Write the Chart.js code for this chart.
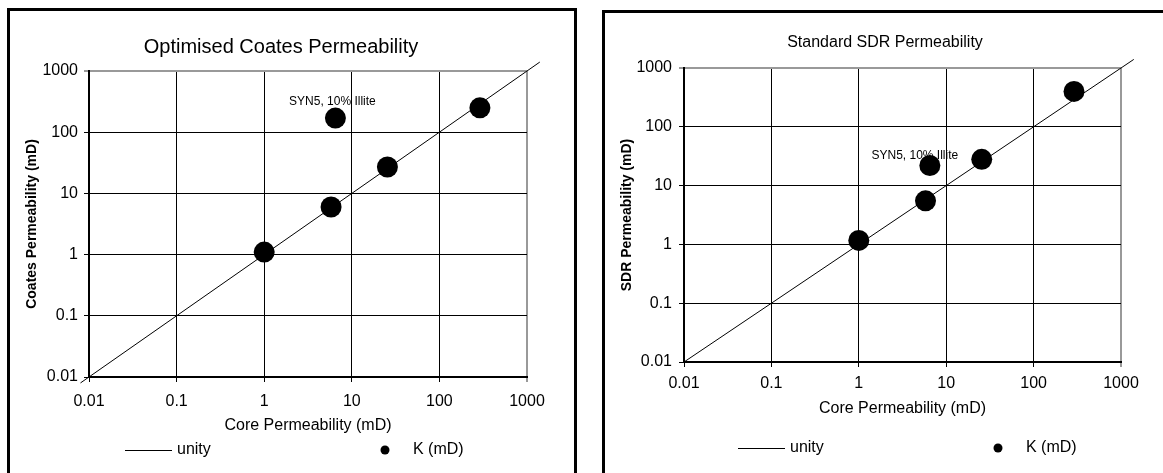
<!DOCTYPE html>
<html>
<head>
<meta charset="utf-8">
<script src="https://cdn.jsdelivr.net/npm/chart.js@4/dist/chart.umd.min.js"></script>
<style>
  html, body { margin: 0; padding: 0; background: #fff; }
  body { position: relative; width: 1163px; height: 473px; overflow: hidden; }
  .panel { position: absolute; border: 3px solid #000; border-bottom: none; height: 520px; }
  #panelLeft { left: 7px; top: 8px; width: 564px; }
  #panelRight { left: 602px; top: 10px; width: 620px; }
  canvas { position: absolute; }
  #coatesChart { left: 10px; top: 11px; }
  #sdrChart { left: 605px; top: 13px; }
</style>
</head>
<body>
<div class="panel" id="panelLeft"></div>
<div class="panel" id="panelRight"></div>
<canvas id="coatesChart" width="564" height="462"></canvas>
<canvas id="sdrChart" width="558" height="460"></canvas>
<script>
// decade ticks on both axes
const decades = [0.01, 0.1, 1, 10, 100, 1000];

// core permeability of the samples (mD)
const coreK = [1.0, 5.8, 6.5, 25.5, 290];
// NMR derived permeability (mD)
const coatesK = [1.1, 6.0, 170, 27, 250];
const sdrK = [1.17, 5.5, 22, 28, 400];

// unity line end points
const unityCoates = [0.008, 1400];
const unitySdr = [0.01, 1400];

const outlierIndex = 2;
const outlierNote = "SYN5, 10% Illite";

const FONT = "'Liberation Sans', Arial, sans-serif";

function toPoints(xs, ys) {
  return xs.map((x, i) => ({ x: x, y: ys[i] }));
}

// title, annotation and legend drawn the Excel way
const excelDecor = {
  id: "excelDecor",
  afterDraw(chart, args, opts) {
    const ctx = chart.ctx;
    const sets = chart.data.datasets;
    ctx.save();
    ctx.fillStyle = "#000";
    ctx.strokeStyle = "#000";
    ctx.textBaseline = "middle";

    ctx.font = opts.titleSize + "px " + FONT;
    ctx.textAlign = "center";
    ctx.fillText(opts.title, opts.titleX, opts.titleY);

    const pt = chart.getDatasetMeta(0).data[opts.noteIndex];
    ctx.font = "12px " + FONT;
    ctx.fillText(opts.note, pt.x + opts.noteDx, pt.y + opts.noteDy);

    const ly = opts.legendY;
    ctx.lineWidth = 1;
    ctx.beginPath();
    ctx.moveTo(opts.lineX, ly + 0.5);
    ctx.lineTo(opts.lineX + 47, ly + 0.5);
    ctx.stroke();
    ctx.font = "16px " + FONT;
    ctx.textAlign = "left";
    ctx.fillText(sets[1].label, opts.lineX + 52, ly);
    ctx.beginPath();
    ctx.arc(opts.dotX, ly, 4.5, 0, Math.PI * 2);
    ctx.fill();
    ctx.fillText(sets[0].label, opts.dotX + 28, ly);
    ctx.restore();
  },
};

function gridColor(c) {
  return c.tick && c.tick.value === 1000 ? "#999" : "#000";
}
function gridWidth(c) {
  return c.tick && c.tick.value === 1000 ? 2 : 1;
}

function logAxis(cfg) {
  return {
    type: "logarithmic",
    min: 0.01,
    max: 1000,
    afterBuildTicks: (scale) => {
      scale.ticks = decades.map((v) => ({ value: v }));
    },
    afterFit: (scale) => {
      if (cfg.width) scale.width = cfg.width;
      if (cfg.height) scale.height = cfg.height;
    },
    ticks: {
      autoSkip: false,
      maxRotation: 0,
      padding: cfg.padding,
      color: "#000",
      font: { family: FONT, size: 16 },
      callback: (v) => String(v),
    },
    grid: {
      color: gridColor,
      lineWidth: gridWidth,
      tickLength: 5,
    },
    border: { color: "#000", width: 2 },
    title: {
      display: true,
      text: cfg.title,
      color: "#000",
      font: cfg.titleFont,
      padding: cfg.titlePadding,
    },
  };
}

function makeChart(canvasId, yValues, unity, opts) {
  const ctx = document.getElementById(canvasId).getContext("2d");
  return new Chart(ctx, {
    type: "scatter",
    data: {
      datasets: [
        {
          label: "K (mD)",
          data: toPoints(coreK, yValues),
          backgroundColor: "#000",
          borderWidth: 0,
          pointRadius: 10.5,
          pointHoverRadius: 10.5,
          order: 0,
        },
        {
          label: "unity",
          data: toPoints(unity, unity),
          showLine: true,
          borderColor: "#000",
          borderWidth: 1,
          pointRadius: 0,
          clip: false,
          order: 1,
        },
      ],
    },
    options: {
      responsive: false,
      animation: false,
      devicePixelRatio: 1,
      layout: { padding: opts.padding },
      plugins: {
        legend: { display: false },
        tooltip: { enabled: false },
        excelDecor: opts.decor,
      },
      scales: {
        x: logAxis({
          height: opts.xHeight,
          padding: opts.xPad,
          title: "Core Permeability (mD)",
          titleFont: { family: FONT, size: 16 },
          titlePadding: { top: 0, bottom: 0 },
        }),
        y: logAxis({
          width: 79,
          padding: opts.yPad,
          title: opts.yTitle,
          titleFont: { family: FONT, size: 14, weight: "bold" },
          titlePadding: { top: 14, bottom: 0 },
        }),
      },
    },
    plugins: [excelDecor],
  });
}

makeChart("coatesChart", coatesK, unityCoates, {
  padding: { left: 0, right: 47, top: 60, bottom: 38 },
  xHeight: 58,
  xPad: 10,
  yPad: 6,
  yTitle: "Coates Permeability (mD)",
  decor: {
    title: "Optimised Coates Permeability",
    titleSize: 20,
    titleX: 271,
    titleY: 36,
    note: outlierNote,
    noteIndex: outlierIndex,
    noteDx: -3,
    noteDy: -16,
    legendY: 439,
    lineX: 115,
    dotX: 375,
  },
});

makeChart("sdrChart", sdrK, unitySdr, {
  padding: { left: 0, right: 42, top: 55, bottom: 55 },
  xHeight: 56,
  xPad: 7,
  yPad: 7,
  yTitle: "SDR Permeability (mD)",
  decor: {
    title: "Standard SDR Permeability",
    titleSize: 16,
    titleX: 280,
    titleY: 30,
    note: outlierNote,
    noteIndex: outlierIndex,
    noteDx: -15,
    noteDy: -10,
    legendY: 435,
    lineX: 133,
    dotX: 393,
  },
});
</script>
</body>
</html>
